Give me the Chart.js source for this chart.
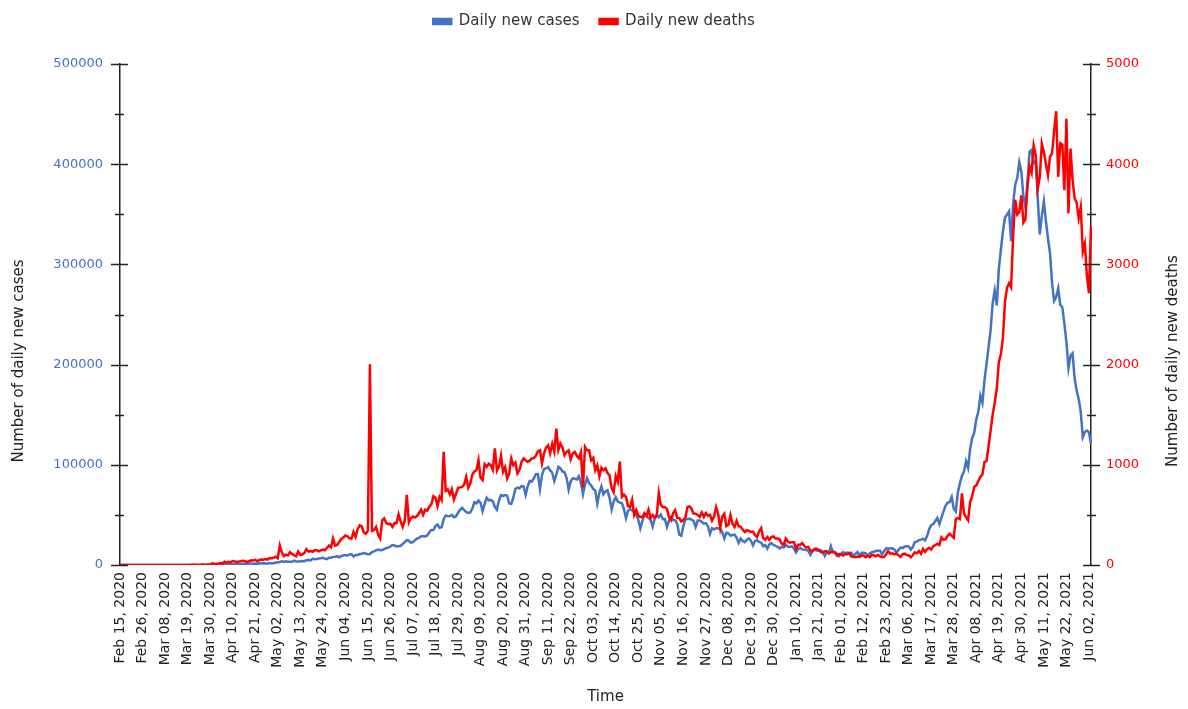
<!DOCTYPE html>
<html>
<head>
<meta charset="utf-8">
<script src="https://cdn.jsdelivr.net/npm/chart.js@4.4.0/dist/chart.umd.min.js"></script>
<style>
  html, body { margin: 0; padding: 0; background: #fff; }
  #wrap { width: 1188px; height: 709px; }
</style>
</head>
<body>
<div id="wrap"><canvas id="covidChart" width="1188" height="709"></canvas></div>
<script>
// one value per day, starting Feb 15, 2020 (one line per month)
const startDate = Date.UTC(2020, 1, 15);
const labelEvery = 11;

const newCases = [
  0,0,0,0,0,0,0,0,0,0,0,0,0,0,0,
  0,2,1,22,2,1,3,5,9,15,8,11,6,23,14,15,28,8,63,50,84,64,103,37,121,70,160,100,112,227,146,
  601,545,624,579,609,484,573,565,813,871,854,758,1243,1031,886,1061,922,1371,1580,1239,1537,1292,1667,1408,1835,1607,1568,1902,1705,1801,
  2396,2564,2952,3656,2971,3602,3344,3339,3175,4311,3592,3562,3726,3991,3808,4794,5049,4628,6154,5720,6023,6536,6667,7111,6414,5843,7293,7300,8105,8336,8782,
  7761,8821,9633,9889,9471,10438,10864,8442,9987,9985,10956,11306,11929,11502,10667,10974,12881,13586,14516,15413,14821,14933,15968,16922,17296,18552,19906,19459,18522,18653,
  19148,20903,22771,24850,24248,22252,22752,24879,26506,27114,28637,28701,28498,29429,32695,34956,34884,38902,40425,37148,37724,45720,49310,48916,48661,49931,47704,48513,52123,55079,57118,
  54736,52972,52050,52509,56282,62538,61537,64399,62064,53601,60963,66999,64553,65002,63490,57982,55079,64531,69652,68898,69878,69239,61408,60975,67151,75760,77266,76472,78761,78512,69921,
  78357,83883,83341,86432,90632,90802,75809,89706,95735,96551,97570,94372,92071,83809,90123,97894,96424,93337,92605,86961,75083,83347,86508,86052,85362,88600,82170,70589,80472,86821,
  81484,79476,75829,74442,61267,72049,78524,70496,73272,74383,66732,55342,63509,67708,63371,62212,61871,55722,46790,54044,55839,54366,53370,50129,45148,36470,43893,49881,48648,46963,45231,
  38310,46253,50210,47638,50357,45674,45903,38073,44281,47905,44879,44684,41100,30548,29164,38617,45576,45882,46232,45209,44059,37975,44376,44489,43082,41322,41810,38772,31118,36604,
  35551,36595,36652,36011,32981,26567,32080,31521,29398,30006,30254,27071,22065,26382,24010,22890,25152,26624,24337,19556,23950,24712,23067,22273,18732,20021,16432,20550,21821,20035,19078,
  18177,16504,18088,17500,20346,18139,18222,18645,16311,12584,15968,16946,15590,15158,15144,13788,10064,13823,15223,14545,14256,14849,13203,9102,12689,11666,18855,13083,13052,11427,8635,
  11039,12899,11713,12408,11831,12059,9110,11067,12923,9309,12143,12194,11649,9121,11610,12881,13193,13993,14264,14199,10584,13742,16738,16577,16488,16752,15510,12286,
  14989,17407,16838,18327,18711,18599,15388,17921,22854,23285,24882,25320,26291,24492,28903,35871,39726,40953,43846,46951,40715,47262,53476,59118,62258,62714,68020,56211,53480,72330,81466,
  89129,93249,103558,96982,115736,126789,131968,145384,152879,168912,161736,184372,200739,217353,234692,261500,273810,259170,295041,314835,332730,346786,349691,352991,323144,360960,379257,386452,401993,392488,
  368147,357229,382315,412262,414188,401078,403738,366161,329942,348421,362727,343144,326098,311170,281386,263533,267334,276110,259551,257299,240842,222315,196427,208921,211298,186364,173790,165553,152734,127510,132788,
  134154,132364,120529
];

const newDeaths = [
  0,0,0,0,0,0,0,0,0,0,0,0,0,0,0,
  0,0,0,0,0,0,0,0,0,0,0,1,1,0,0,1,1,0,1,0,3,3,2,1,1,4,3,3,5,3,16,
  12,10,14,20,16,32,22,32,26,40,35,30,36,38,43,37,31,37,47,46,52,38,51,55,52,60,54,70,67,72,
  83,68,195,126,89,103,95,128,111,97,87,134,100,104,120,157,134,140,132,148,148,137,146,154,147,170,194,175,265,193,200,
  230,260,273,294,287,266,264,331,279,357,396,386,325,311,343,2003,341,350,380,306,265,445,465,418,407,410,381,419,418,507,
  434,379,442,700,425,467,482,475,487,519,551,500,553,543,582,606,687,671,587,681,648,1129,740,755,705,757,654,708,768,775,779,
  803,880,771,813,904,933,946,1046,871,847,1007,980,1010,996,950,1163,941,980,1092,930,977,864,912,1063,996,1023,913,948,1029,1063,1045,
  1029,1043,1063,1066,1089,1133,1145,1016,1115,1172,1195,1114,1209,1132,1362,1148,1212,1174,1096,1130,1145,1053,1112,1129,1089,1063,1124,776,1179,1145,
  1145,1046,1069,946,996,884,971,946,964,918,895,767,727,889,830,1033,680,702,680,587,578,650,498,548,490,480,478,517,490,551,470,
  500,470,490,717,600,578,577,559,478,448,518,547,470,468,435,449,474,578,584,562,513,511,500,480,524,480,518,492,500,443,
  482,578,512,368,482,511,388,402,498,411,379,442,387,380,355,329,347,341,329,333,299,278,336,368,269,251,279,251,279,286,264,
  264,256,214,201,264,234,222,228,227,161,202,201,219,191,175,181,145,137,162,162,151,131,123,138,137,117,127,131,123,94,110,
  107,94,107,108,120,84,81,78,84,81,94,95,78,90,78,101,97,86,101,87,78,81,108,138,113,117,106,113,
  98,80,108,113,100,96,77,97,126,117,140,112,161,131,158,172,154,188,197,212,199,275,251,257,291,312,291,271,458,469,459,
  714,513,478,446,630,685,780,794,839,879,904,1027,1038,1185,1341,1501,1619,1761,2023,2104,2263,2624,2767,2812,2771,3293,3645,3498,3523,3689,
  3417,3449,3780,3980,3915,4187,4092,3754,3876,4205,4120,4000,3890,4077,4106,4329,4529,3874,4209,4194,3741,4454,3511,4157,3847,3660,3617,3460,3571,3128,3207,
  2887,2713,3380
];

const casesAxis = { max: 500000, step: 100000, minor: 50000 };
const deathsAxis = { max: 5000, step: 1000, minor: 500 };

const monthNames = ["Jan", "Feb", "Mar", "Apr", "May", "Jun", "Jul", "Aug", "Sep", "Oct", "Nov", "Dec"];
const days = newCases.map((_, i) => {
  const d = new Date(startDate + i * 86400000);
  return monthNames[d.getUTCMonth()] + " " + String(d.getUTCDate()).padStart(2, "0") + ", " + d.getUTCFullYear();
});

const BLUE = "#4472C4";
const RED = "#FF0000";
const INK = "#222";
const FONT = "'DejaVu Sans', sans-serif";

// legend spacing: wider items, then pull the legend back up
const legendSpace = {
  id: "legendSpace",
  beforeInit(chart) {
    const fit = chart.legend.fit;
    chart.legend.fit = function () {
      fit.call(this);
      this.height += 19;
    };
  },
  afterLayout(chart) {
    chart.legend.top -= 6;
    chart.legend.bottom -= 6;
  }
};

// tick marks that cross the y axes, plus the y axis titles
const axisMarks = {
  id: "axisMarks",
  afterDraw(chart) {
    const ctx = chart.ctx;
    ctx.save();
    ctx.strokeStyle = INK;
    ctx.lineWidth = 1.5;
    [["y", -1, casesAxis], ["y1", 1, deathsAxis]].forEach(([id, side, ax]) => {
      const s = chart.scales[id];
      const x = side < 0 ? s.right : s.left;
      for (let v = 0; v <= ax.max; v += ax.minor) {
        const y = Math.round(s.getPixelForValue(v)) + 0.5;
        const major = v % ax.step === 0;
        const out = major ? 9 : 5;
        const inn = major ? 8 : 4;
        ctx.beginPath();
        ctx.moveTo(x + side * out, y);
        ctx.lineTo(x - side * inn, y);
        ctx.stroke();
      }
    });

    ctx.fillStyle = INK;
    ctx.font = "15px " + FONT;
    ctx.textAlign = "center";
    ctx.textBaseline = "middle";
    const titles = [["Number of daily new cases", 19], ["Number of daily new deaths", 1173]];
    titles.forEach(([text, x]) => {
      ctx.save();
      ctx.translate(x, 361);
      ctx.rotate(-Math.PI / 2);
      ctx.fillText(text, 0, 0);
      ctx.restore();
    });
    ctx.restore();
  }
};

const plainNumber = (v) => String(v);

const ctx = document.getElementById("covidChart").getContext("2d");
new Chart(ctx, {
  type: "line",
  data: {
    labels: days,
    datasets: [
      {
        label: "Daily new cases",
        data: newCases,
        yAxisID: "y",
        borderColor: BLUE,
        backgroundColor: BLUE,
        borderWidth: 2.5,
        pointRadius: 0,
        tension: 0,
        order: 2
      },
      {
        label: "Daily new deaths",
        data: newDeaths,
        yAxisID: "y1",
        borderColor: RED,
        backgroundColor: RED,
        borderWidth: 2.5,
        pointRadius: 0,
        tension: 0,
        order: 1
      }
    ]
  },
  options: {
    responsive: false,
    animation: false,
    layout: { padding: { top: 0, left: 0, right: 0, bottom: 0 } },
    plugins: {
      legend: {
        position: "top",
        labels: {
          boxWidth: 18,
          boxHeight: 5,
          padding: 20,
          color: "#333",
          font: { family: FONT, size: 15 },
          sort: (a, b) => a.datasetIndex - b.datasetIndex
        }
      },
      tooltip: { enabled: false }
    },
    scales: {
      x: {
        grid: { display: false, drawTicks: false },
        border: { display: false },
        ticks: {
          autoSkip: false,
          maxRotation: 90,
          minRotation: 90,
          padding: 7,
          color: INK,
          font: { family: FONT, size: 14 },
          callback: (value, i) => (i % labelEvery === 0 ? days[i] : "")
        },
        title: {
          display: true,
          text: "Time",
          color: INK,
          font: { family: FONT, size: 15 },
          padding: { top: 0, bottom: 3 }
        },
        afterFit: (s) => { s.height = 144; }
      },
      y: {
        position: "left",
        min: 0,
        max: casesAxis.max,
        ticks: { stepSize: casesAxis.step, padding: 17, color: BLUE, font: { family: FONT, size: 13 }, callback: plainNumber },
        grid: { display: false, drawTicks: false },
        border: { display: true, color: INK, width: 1.5 },
        afterFit: (s) => { s.width = 120; }
      },
      y1: {
        position: "right",
        min: 0,
        max: deathsAxis.max,
        ticks: { stepSize: deathsAxis.step, padding: 15, color: RED, font: { family: FONT, size: 13 }, callback: plainNumber },
        grid: { display: false, drawTicks: false },
        border: { display: true, color: INK, width: 1.5 },
        afterFit: (s) => { s.width = 97; }
      }
    }
  },
  plugins: [legendSpace, axisMarks]
});
</script>
</body>
</html>
